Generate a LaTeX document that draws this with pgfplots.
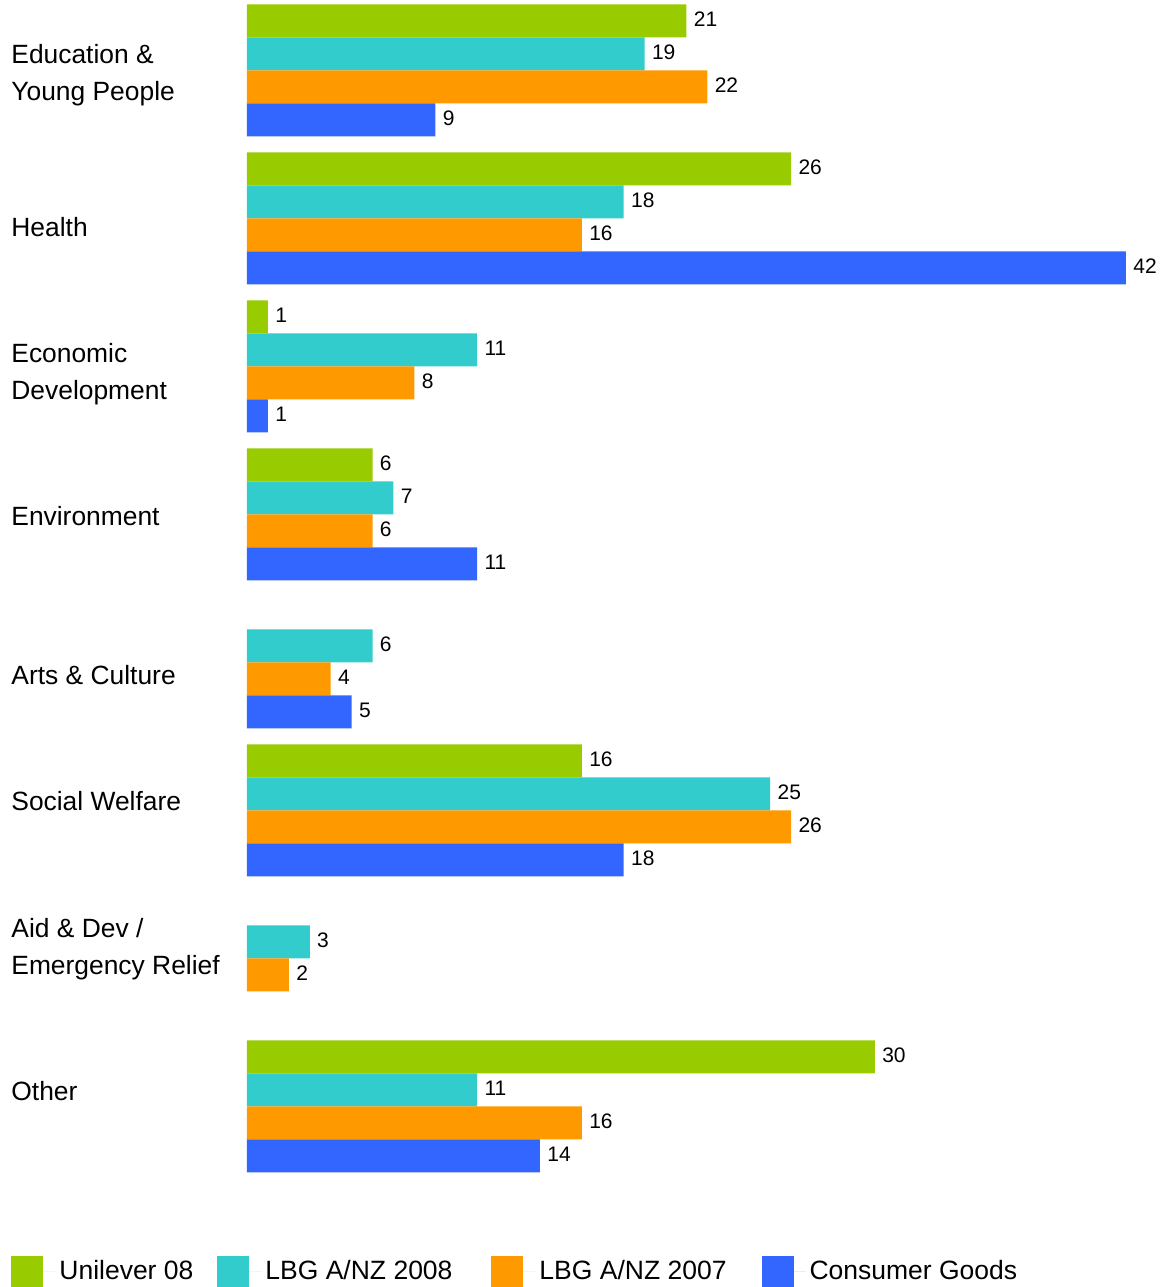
\documentclass[border=0pt]{standalone}
\usepackage{fontspec}
\setmainfont{Liberation Sans}
\usepackage{pgfplots}
\pgfplotsset{compat=1.18}
\definecolor{ugreen}{HTML}{99CC00}
\definecolor{uteal}{HTML}{33CCCC}
\definecolor{uorange}{HTML}{FF9900}
\definecolor{ublue}{HTML}{3366FF}
\begin{document}
\begin{tikzpicture}
\begin{axis}[
  scale only axis, width=439.5pt, height=643.5pt,
  xmin=0, xmax=42, ymin=-1.2196, ymax=7.4764,
  xbar, bar width=16.5pt,
  axis line style={draw=none}, major tick length=0pt,
  xtick=\empty,
  ytick={0.105,1.064,2.064,2.916,3.990,4.946,5.943,6.966},
  yticklabels={Other, {Aid \& Dev /\\Emergency Relief}, Social Welfare, Arts \& Culture, Environment, {Economic\\Development}, Health, {Education \&\\Young People}},
  yticklabel style={anchor=west, align=left, inner sep=0pt, xshift=-118pt, font=\fontsize{13.2}{18.5}\selectfont},
  clip=false,
  /pgf/number format/assume math mode=true,
  point meta=x,
  nodes near coords,
  nodes near coords align={horizontal},
  every node near coord/.append style={font=\fontsize{10.5}{12}\selectfont, black, inner sep=0pt, xshift=3.5pt, yshift=1pt},
  legend columns=4,
  legend style={draw=none, fill=none, at={(rel axis cs:-0.2685,0)}, anchor=south west, inner sep=0pt, font=\fontsize{13.25}{16}\selectfont,
    /tikz/column 2/.style={column sep=10pt},
    /tikz/column 4/.style={column sep=17.5pt},
    /tikz/column 6/.style={column sep=15.5pt}},
  legend image code/.code={\fill[#1] (0pt,-7.75pt) rectangle (16pt,7.75pt); \path (0pt,0pt) -- (22pt,0pt);},
]
\addplot[fill=ugreen, draw=none, bar shift=24.75pt] coordinates {(21,7) (26,6) (1,5) (6,4) (16,2) (30,0)};
\addplot[fill=uteal, draw=none, bar shift=8.25pt] coordinates {(19,7) (18,6) (11,5) (7,4) (6,3) (25,2) (3,1) (11,0)};
\addplot[fill=uorange, draw=none, bar shift=-8.25pt] coordinates {(22,7) (16,6) (8,5) (6,4) (4,3) (26,2) (2,1) (16,0)};
\addplot[fill=ublue, draw=none, bar shift=-24.75pt] coordinates {(9,7) (42,6) (1,5) (11,4) (5,3) (18,2) (14,0)};
\legend{Unilever 08, LBG A/NZ 2008, LBG A/NZ 2007, Consumer Goods}
\coordinate (nw) at (rel axis cs:0,1);
\end{axis}
\path (nw) ++(-123.5pt,0pt) rectangle ++(583pt,-643.5pt);
\end{tikzpicture}
\end{document}
